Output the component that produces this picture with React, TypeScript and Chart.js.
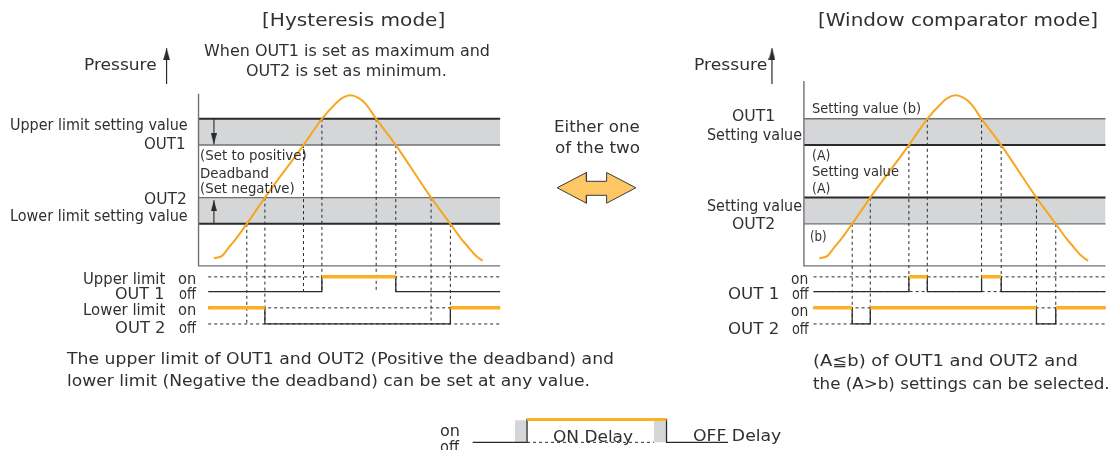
import React, { useEffect, useRef } from "react";
import { Chart, registerables } from "chart.js";

Chart.register(...registerables);

const W = 1115;
const H = 450;

// ---------- data (time units 0–100 across each panel, pressure units) ----------
const curveTime = [5.1, 7.8, 10.0, 12.2, 16.0, 22.0, 34.8, 40.9, 45.5, 47.7, 50.3, 53.0, 55.4, 58.9, 65.4, 77.1, 83.5, 87.3, 89.5, 91.8, 94.2];
const curvePressure = [4.3, 5.7, 10.4, 15.0, 24.0, 39.0, 69.0, 84.0, 92.8, 95.9, 97.4, 95.9, 92.5, 84.0, 69.0, 39.0, 24.0, 15.0, 10.6, 6.0, 2.9];

const upperBand = [69, 84];
const lowerBand = [24, 39];

const crossTime = [16.0, 22.0, 34.8, 40.9, 58.9, 65.4, 77.1, 83.5];
const crossPressure = [24, 39, 69, 84, 84, 69, 39, 24];
const crossOutput = [2, 2, 1, 1, 1, 1, 2, 2];

const signalSpan = [3.2, 100];
const out1Levels = [-6.3, -14.7]; // on, off
const out2Levels = [-24.0, -33.2]; // on, off

const hysOut1On = [[40.9, 65.4]];
const hysOut2On = [[3.2, 22.0], [83.5, 100]];
const winOut1On = [[34.8, 40.9], [58.9, 65.4]];
const winOut2On = [[3.2, 16.0], [22.0, 77.1], [83.5, 100]];

const hysAxisTop = 98.3;
const winAxisTop = 105.6;
const pressureArrowTime = -10.6;
const pressureArrow = [103.9, 124.3];
const deadbandArrowTime = 5.1;
const deadbandArrowDown = [84, 69.5];
const deadbandArrowUp = [24, 37.5];

const switchArrowTime = [118.9, 128.6, 128.6, 135.3, 135.3, 145.0, 135.3, 135.3, 128.6, 128.6, 118.9];
const switchArrowPressure = [44.6, 53.3, 48.3, 48.3, 53.3, 44.6, 35.8, 40.3, 40.3, 35.8, 44.6];

const legendSpan = [0, 100];
const legendOn = [[21.3, 75.9]];
const legendDelay = [[16.5, 21.3], [71.0, 75.9]];

// ---------- layout / style ----------
const LEFT_T0 = 194.5;
const RIGHT_T0 = 806.7;
const T_PX = 3.05;
const P0_PX = 267;
const P_PX = 1.8;
const LEG_T0 = 471.7;
const LEG_T_PX = 2.583;
const LEG_OFF_PX = 448.5;
const LEG_LEVEL_PX = 23.5;

const ORANGE = "#fbb123";
const CURVE = "#f6a71e";
const BAND = "#d5d6d8";
const DARK = "#2a2a2a";
const GRAYLINE = "#6f7072";
const TEXT = "#303030";
const FONT = "'DejaVu Sans', sans-serif";

type Pt = [number, number];

function xRange(px0: number, ppu: number) {
  const min = -px0 / ppu;
  return { min, max: min + W / ppu };
}
function yRange(px0: number, ppu: number) {
  const min = -(H - px0) / ppu;
  return { min, max: min + H / ppu };
}

function ds(pts: Pt[], xAxisID: string, yAxisID: string, o: any = {}) {
  return {
    type: "line",
    data: pts.map(([x, y]) => ({ x, y })),
    xAxisID,
    yAxisID,
    pointRadius: 0,
    pointHoverRadius: 0,
    borderWidth: 1,
    borderColor: DARK,
    backgroundColor: "transparent",
    fill: false,
    tension: 0,
    borderCapStyle: "butt",
    ...o,
  };
}

function trace(onIv: number[][], span: number[], on: number, off: number): Pt[] {
  const [s, e] = span;
  const pts: Pt[] = [];
  let lvl = onIv.some(([a, b]) => a <= s && b > s) ? on : off;
  pts.push([s, lvl]);
  for (const [a, b] of onIv) {
    if (a > s) {
      pts.push([a, off], [a, on]);
    }
    if (b < e) {
      pts.push([b, on], [b, off]);
      lvl = off;
    } else lvl = on;
  }
  pts.push([e, lvl]);
  return pts;
}

function signal(xId: string, yId: string, onIv: number[][], span: number[], on: number, off: number, dashOff: boolean, orangeW: number) {
  const out: any[] = [];
  out.push(ds([[span[0], on], [span[1], on]], xId, yId, { borderDash: [3, 3], order: 5 }));
  if (dashOff) out.push(ds([[span[0], off], [span[1], off]], xId, yId, { borderDash: [3, 3], order: 5 }));
  out.push(ds(trace(onIv, span, on, off), xId, yId, { borderWidth: 1.3, order: 4 }));
  for (const [a, b] of onIv) out.push(ds([[a, on], [b, on]], xId, yId, { borderColor: ORANGE, borderWidth: orangeW, order: 3 }));
  return out;
}

function arrowHead(w: number, h: number, color: string) {
  const c = document.createElement("canvas");
  c.width = w;
  c.height = 2 * h;
  const g = c.getContext("2d")!;
  g.fillStyle = color;
  g.beginPath();
  g.moveTo(w / 2, h);
  g.lineTo(w, 2 * h);
  g.lineTo(0, 2 * h);
  g.closePath();
  g.fill();
  return c;
}

function panel(xId: string, mode: "hys" | "win", heads: any) {
  const out: any[] = [];
  const Y = "yP";
  for (const [lo, hi] of [upperBand, lowerBand]) {
    out.push(ds([[0, hi], [100, hi]], xId, Y, { borderWidth: 0, fill: { value: lo }, backgroundColor: BAND, order: 9 }));
  }
  const darkLevels = mode === "hys" ? [upperBand[1], lowerBand[0]] : [upperBand[0], lowerBand[1]];
  for (const v of [upperBand[1], upperBand[0], lowerBand[1], lowerBand[0]]) {
    const dark = darkLevels.includes(v);
    out.push(ds([[0, v], [100, v]], xId, Y, { borderColor: dark ? DARK : GRAYLINE, borderWidth: dark ? 2 : 1.4, order: 8 }));
  }
  const top = mode === "hys" ? hysAxisTop : winAxisTop;
  out.push(ds([[0, top], [0, 0], [100, 0]], xId, Y, { borderColor: GRAYLINE, borderWidth: 1.4, order: 7 }));
  crossTime.forEach((t, i) => {
    const off = crossOutput[i] === 1 ? out1Levels[1] : out2Levels[1];
    out.push(ds([[t, crossPressure[i]], [t, off]], xId, Y, { borderDash: [3, 3], borderWidth: 1, order: 6 }));
  });
  const o1 = mode === "hys" ? hysOut1On : winOut1On;
  const o2 = mode === "hys" ? hysOut2On : winOut2On;
  out.push(...signal(xId, Y, o1, signalSpan, out1Levels[0], out1Levels[1], mode !== "hys", 3.5));
  out.push(...signal(xId, Y, o2, signalSpan, out2Levels[0], out2Levels[1], true, 3.5));
  out.push(
    ds(curveTime.map((t, i) => [t, curvePressure[i]] as Pt), xId, Y, {
      borderColor: CURVE,
      borderWidth: 2,
      cubicInterpolationMode: "monotone",
      order: 2,
    })
  );
  out.push(
    ds([[pressureArrowTime, pressureArrow[0]], [pressureArrowTime, pressureArrow[1]]], xId, Y, {
      borderWidth: 1.2,
      pointRadius: [0, 5],
      pointStyle: heads.big,
      order: 1,
    })
  );
  if (mode === "hys") {
    out.push(
      ds([[deadbandArrowTime, deadbandArrowDown[0]], [deadbandArrowTime, deadbandArrowDown[1]]], xId, Y, {
        borderWidth: 1.1,
        pointRadius: [0, 4],
        pointStyle: heads.small,
        pointRotation: 180,
        order: 1,
      })
    );
    out.push(
      ds([[deadbandArrowTime, deadbandArrowUp[0]], [deadbandArrowTime, deadbandArrowUp[1]]], xId, Y, {
        borderWidth: 1.1,
        pointRadius: [0, 4],
        pointStyle: heads.small,
        order: 1,
      })
    );
  }
  return out;
}

// text: [content, anchor x, centre y, alignment, font size, width in the reference]
type Lbl = [string, number, number, "l" | "c" | "r", number, number];
const FS = 15.5;
const FD = 15;
const FSm = 14;
const FT = 18.5;
const labels: Lbl[] = [
  ["[Hysteresis mode]", 353.3, 20, "c", FT, 183.3],
  ["Pressure", 156.5, 66, "r", FS, 72.7],
  ["When OUT1 is set as maximum and", 347, 52, "c", FS, 286],
  ["OUT2 is set as minimum.", 346.3, 72, "c", FS, 200.7],
  ["Upper limit setting value", 187.7, 126, "r", FS, 177.7],
  ["OUT1", 185.5, 145, "r", FS, 41.5],
  ["OUT2", 186.5, 199.5, "r", FS, 42.7],
  ["Lower limit setting value", 187.7, 217, "r", FS, 177.7],
  ["(Set to positive)", 199.5, 154.5, "l", FSm, 106.7],
  ["Deadband", 199.5, 173, "l", FSm, 69],
  ["(Set negative)", 199.5, 188, "l", FSm, 94.7],
  ["Upper limit", 165.7, 278.5, "r", FD, 82.3],
  ["on", 196.7, 278.5, "r", FD, 18.3],
  ["OUT 1", 164.3, 293.5, "r", FD, 49.3],
  ["off", 196, 293.5, "r", FD, 17],
  ["Lower limit", 165.7, 310, "r", FD, 82.3],
  ["on", 196.7, 310, "r", FD, 18.3],
  ["OUT 2", 165.5, 327.5, "r", FD, 50.5],
  ["off", 196, 327.5, "r", FD, 17],
  ["The upper limit of OUT1 and OUT2 (Positive the deadband) and", 66.7, 358.5, "l", FD, 547],
  ["lower limit (Negative the deadband) can be set at any value.", 66.7, 381, "l", FD, 523],
  ["Either one", 597, 128, "c", FS, 85.7],
  ["of the two", 597, 149, "c", FS, 85],
  ["[Window comparator mode]", 958.3, 20, "c", FT, 280],
  ["Pressure", 767.3, 66, "r", FS, 73.3],
  ["OUT1", 753.5, 117, "c", FS, 43.3],
  ["Setting value", 754.2, 135.5, "c", FS, 95],
  ["Setting value", 754.2, 206.5, "c", FS, 95],
  ["OUT2", 753.5, 225, "c", FS, 43.3],
  ["Setting value (b)", 811.7, 108, "l", FSm, 109],
  ["(A)", 811.5, 155, "l", FSm, 18.3],
  ["Setting value", 811.5, 171, "l", FSm, 87],
  ["(A)", 811.5, 188, "l", FSm, 18.3],
  ["(b)", 810, 236, "l", FSm, 16.7],
  ["on", 808.3, 279, "r", FD, 17.3],
  ["OUT 1", 779, 294, "r", FD, 51.3],
  ["off", 808.3, 294, "r", FD, 16.7],
  ["on", 808.3, 310.5, "r", FD, 17.3],
  ["OUT 2", 779, 328.5, "r", FD, 51.3],
  ["off", 808.3, 328.5, "r", FD, 16.7],
  ["(A≦b) of OUT1 and OUT2 and", 813.3, 361, "l", FD, 265],
  ["the (A>b) settings can be selected.", 813.3, 384, "l", FD, 296.7],
  ["on", 449.7, 431, "c", FD, 20],
  ["off", 449.7, 447, "c", FD, 19],
  ["ON Delay", 593.3, 437, "c", FD, 80],
  ["OFF Delay", 693.3, 436, "l", FD, 88.3],
];

let measureCtx: CanvasRenderingContext2D | null = null;
function measure(text: string, fs: number) {
  if (!measureCtx) measureCtx = document.createElement("canvas").getContext("2d");
  measureCtx!.font = `${fs}px ${FONT}`;
  return measureCtx!.measureText(text).width || 1;
}

export default function App() {
  const ref = useRef<HTMLCanvasElement | null>(null);
  useEffect(() => {
    if (!ref.current) return;
    const heads = { big: arrowHead(7, 12, DARK), small: arrowHead(6, 11, DARK) };
    const datasets: any[] = [];
    datasets.push(...panel("xL", "hys", heads));
    datasets.push(...panel("xR", "win", heads));
    // switch arrow between panels
    datasets.push(
      ds(switchArrowTime.map((t, i) => [t, switchArrowPressure[i]] as Pt), "xL", "yP", {
        fill: "shape",
        backgroundColor: "#fdc766",
        borderColor: "#3a3a3a",
        borderWidth: 1,
        borderJoinStyle: "miter",
        order: 1,
      })
    );
    // ON/OFF delay legend
    for (const [a, b] of legendDelay) {
      datasets.push(ds([[a, 0.97], [b, 0.97]], "xB", "yB", { borderWidth: 0, fill: { value: 0 }, backgroundColor: BAND, order: 9 }));
    }
    datasets.push(ds([[legendOn[0][0], 0], [legendDelay[1][0], 0]], "xB", "yB", { borderDash: [3, 3], order: 5 }));
    datasets.push(ds(trace(legendOn, legendSpan, 1, 0), "xB", "yB", { borderWidth: 1.3, order: 4 }));
    for (const [a, b] of legendOn) datasets.push(ds([[a, 1], [b, 1]], "xB", "yB", { borderColor: ORANGE, borderWidth: 3, order: 3 }));

    const lin = (axis: string, r: { min: number; max: number }) => ({
      type: "linear",
      axis,
      display: false,
      bounds: "data",
      min: r.min,
      max: r.max,
    });

    const chart = new Chart(ref.current, {
      type: "line",
      data: { datasets },
      options: {
        animation: false,
        responsive: false,
        events: [],
        layout: { padding: 0 },
        plugins: { legend: { display: false }, tooltip: { enabled: false }, title: { display: false } },
        scales: {
          xL: lin("x", xRange(LEFT_T0, T_PX)),
          xR: lin("x", xRange(RIGHT_T0, T_PX)),
          xB: lin("x", xRange(LEG_T0, LEG_T_PX)),
          yP: lin("y", yRange(P0_PX, P_PX)),
          yB: lin("y", yRange(LEG_OFF_PX, LEG_LEVEL_PX)),
        },
      } as any,
    } as any);
    return () => chart.destroy();
  }, []);

  return (
    <div style={{ position: "absolute", left: 0, top: 0, width: W, height: H, overflow: "hidden", background: "#fff" }}>
      <canvas ref={ref} width={W} height={H} style={{ position: "absolute", left: 0, top: 0, width: W, height: H }} />
      {labels.map(([t, x, y, a, fs, w], i) => {
        const s = w / measure(t, fs);
        const left = a === "l" ? x : a === "c" ? x - w / 2 : x - w;
        return (
          <div
            key={i}
            style={{
              position: "absolute",
              left,
              top: y,
              transform: `translateY(-50%) scaleX(${s.toFixed(4)})`,
              transformOrigin: "0 50%",
              fontFamily: FONT,
              fontSize: fs,
              lineHeight: 1,
              color: TEXT,
              whiteSpace: "nowrap",
            }}
          >
            {t}
          </div>
        );
      })}
    </div>
  );
}
